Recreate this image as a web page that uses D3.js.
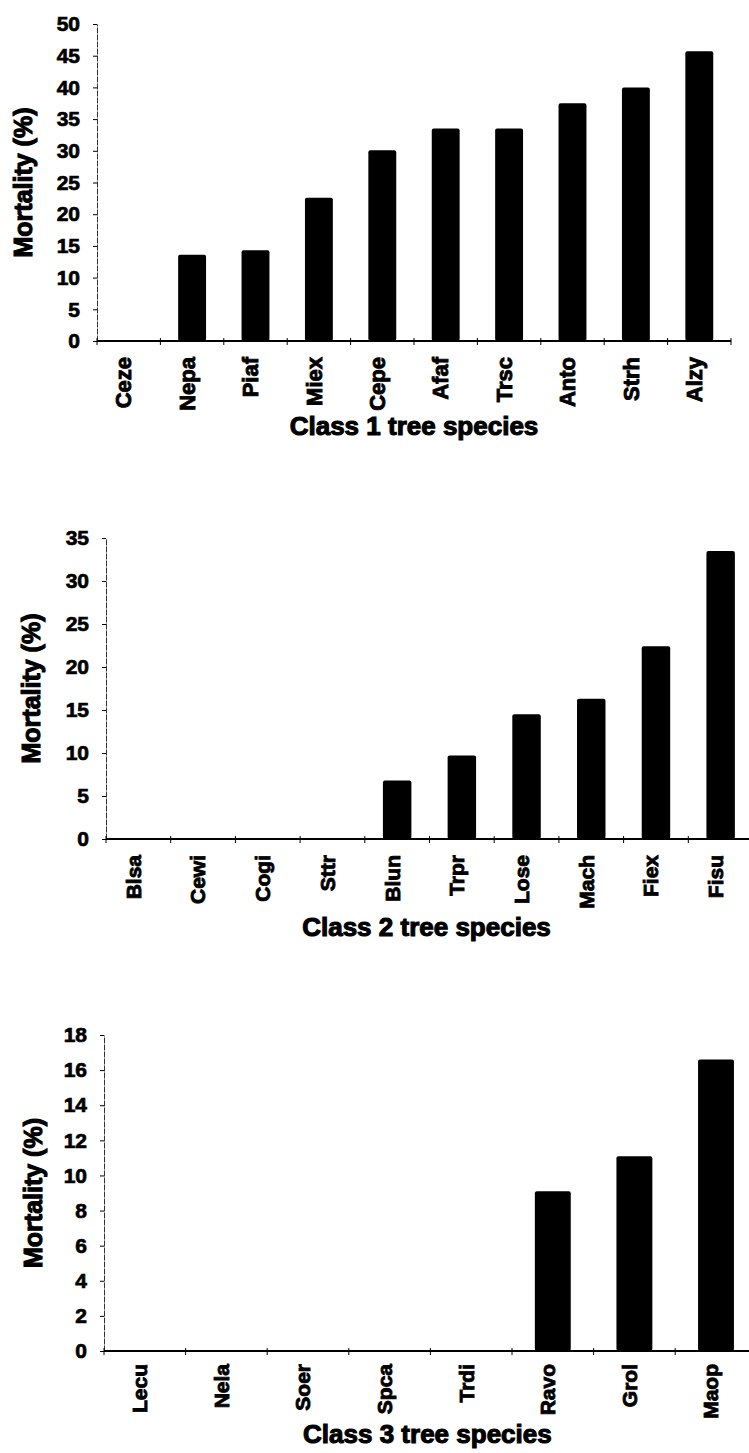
<!DOCTYPE html>
<html>
<head>
<meta charset="utf-8">
<script src="https://cdn.jsdelivr.net/npm/d3@7"></script>
<style>
  body { margin: 0; background: #fff; }
  text { font-family: "Liberation Sans", Arial, sans-serif; font-weight: bold; fill: #000; }
</style>
</head>
<body>
<div id="chart"></div>
<script>
var width = 749;
var height = 1453;

var class1Species = ["Ceze", "Nepa", "Piaf", "Miex", "Cepe", "Afaf", "Trsc", "Anto", "Strh", "Alzy"];
var class1Mortality = [0, 13.6, 14.3, 22.6, 30.1, 33.5, 33.5, 37.5, 40, 45.7];
var class1Ticks = [0, 5, 10, 15, 20, 25, 30, 35, 40, 45, 50];

var class2Species = ["Blsa", "Cewi", "Cogi", "Sttr", "Blun", "Trpr", "Lose", "Mach", "Fiex", "Fisu"];
var class2Mortality = [0, 0, 0, 0, 6.8, 9.7, 14.5, 16.3, 22.4, 33.5];
var class2Ticks = [0, 5, 10, 15, 20, 25, 30, 35];

var class3Species = ["Lecu", "Nela", "Soer", "Spca", "Trdi", "Ravo", "Grol", "Maop"];
var class3Mortality = [0, 0, 0, 0, 0, 9.1, 11.1, 16.6];
var class3Ticks = [0, 2, 4, 6, 8, 10, 12, 14, 16, 18];

var panels = [
  { species: class1Species, values: class1Mortality, ticks: class1Ticks, title: "Class 1 tree species",
    left: 97, band: 63.4, bottom: 341, top: 24, labelGap: 16, labelSize: 22, titleY: 435, yTitleX: 32 },
  { species: class2Species, values: class2Mortality, ticks: class2Ticks, title: "Class 2 tree species",
    left: 106, band: 64.7, bottom: 839, top: 538, labelGap: 16, labelSize: 21, titleY: 936, yTitleX: 40 },
  { species: class3Species, values: class3Mortality, ticks: class3Ticks, title: "Class 3 tree species",
    left: 104, band: 81.6, bottom: 1351, top: 1035, labelGap: 13, labelSize: 21, titleY: 1443, yTitleX: 42 }
];

var svg = d3.select("#chart").append("svg")
  .attr("width", width)
  .attr("height", height);

panels.forEach(function(p) { drawPanel(p); });

function drawPanel(p) {
  var right = p.left + p.band * p.species.length;
  var data = p.species.map(function(s, i) { return { name: s, value: p.values[i] }; });

  var x = d3.scaleBand()
    .domain(p.species)
    .range([p.left, right])
    .paddingInner(0.56)
    .paddingOuter(0.28);

  var y = d3.scaleLinear()
    .domain([0, d3.max(p.ticks)])
    .range([p.bottom, p.top]);

  var g = svg.append("g");

  // bars
  g.selectAll("rect.bar").data(data).enter().append("rect")
    .attr("class", "bar")
    .attr("x", function(d) { return x(d.name); })
    .attr("width", x.bandwidth())
    .attr("y", function(d) { return y(d.value); })
    .attr("height", function(d) { return y(0) - y(d.value); })
    .attr("rx", 2)
    .attr("fill", "#000");

  // y axis
  var yAxis = g.append("g")
    .attr("transform", "translate(" + p.left + ",0)")
    .call(d3.axisLeft(y).tickValues(p.ticks).tickSize(4).tickSizeOuter(0).tickPadding(13));
  yAxis.select(".domain").attr("stroke", "#333").attr("stroke-width", 1).attr("stroke-dasharray", "6,1");
  yAxis.selectAll(".tick line").attr("stroke", "#000");
  yAxis.selectAll(".tick text")
    .style("font-size", "21px")
    .attr("stroke", "#000").attr("stroke-width", 0.7);

  // x axis line and boundary ticks
  g.append("line")
    .attr("x1", p.left).attr("x2", right)
    .attr("y1", y(0)).attr("y2", y(0))
    .attr("stroke", "#000").attr("stroke-width", 2);

  var bounds = p.species.map(function(s) { return x(s) - x.step() * x.paddingInner() / 2; });
  bounds.push(right);
  g.selectAll("line.xtick").data(bounds).enter().append("line")
    .attr("class", "xtick")
    .attr("x1", function(d) { return d; }).attr("x2", function(d) { return d; })
    .attr("y1", y(0) - 3).attr("y2", y(0) + 4)
    .attr("stroke", "#000").attr("stroke-width", 1);

  // category labels
  var xAxis = g.append("g")
    .attr("transform", "translate(0," + y(0) + ")")
    .call(d3.axisBottom(x).tickSize(0));
  xAxis.select(".domain").remove();
  xAxis.selectAll(".tick text")
    .attr("transform", "rotate(-90)")
    .attr("text-anchor", "end")
    .attr("x", -p.labelGap)
    .attr("y", -5)
    .attr("dy", "0.35em")
    .style("font-size", p.labelSize + "px")
    .attr("stroke", "#000").attr("stroke-width", 0.9);

  // axis titles
  g.append("text")
    .attr("x", (p.left + right) / 2 + (right > width ? -3 : 0))
    .attr("y", p.titleY)
    .attr("text-anchor", "middle")
    .style("font-size", "26px")
    .attr("stroke", "#000").attr("stroke-width", 1.1)
    .text(p.title);

  g.append("text")
    .attr("transform", "translate(" + p.yTitleX + "," + (p.top + p.bottom) / 2 + ") rotate(-90)")
    .attr("text-anchor", "middle")
    .style("font-size", "25px")
    .attr("stroke", "#000").attr("stroke-width", 1.1)
    .text("Mortality (%)");
}
</script>
</body>
</html>
